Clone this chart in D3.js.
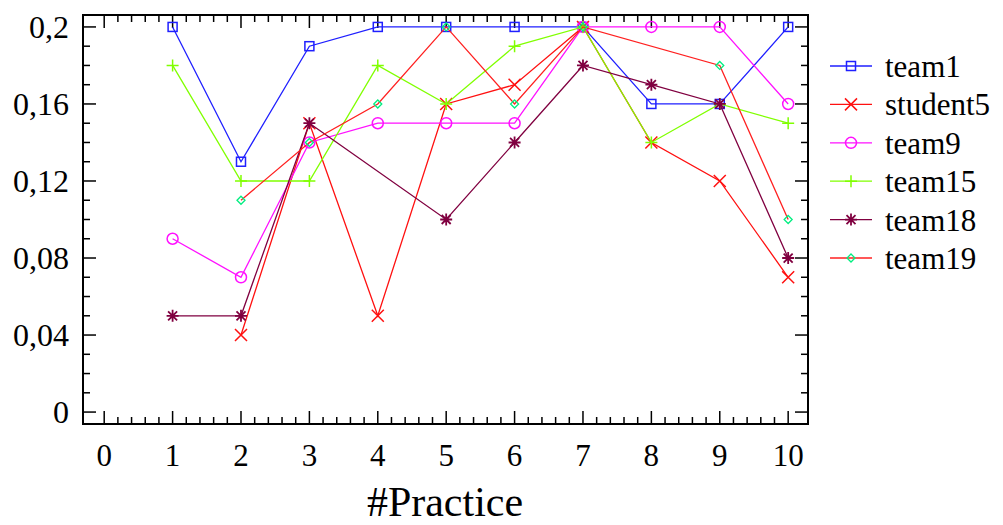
<!DOCTYPE html>
<html><head><meta charset="utf-8">
<script src="https://cdn.jsdelivr.net/npm/d3@7"></script>
<style>
svg text, svg tspan { font-family: "Liberation Serif", "Times New Roman", Tinos, Times !important; }
</style>
</head><body style="margin:0">
<svg id="c" width="1003" height="525"></svg>
<script>
const practice = [1,2,3,4,5,6,7,8,9,10];
const team1    = [0.20,0.13,0.19,0.20,0.20,0.20,0.20,0.16,0.16,0.20];
const student5 = [null,0.04,0.15,0.05,0.16,0.17,0.20,0.14,0.12,0.07];
const team9    = [0.09,0.07,0.14,0.15,0.15,0.15,0.20,0.20,0.20,0.16];
const team15   = [0.18,0.12,0.12,0.18,0.16,0.19,0.20,0.14,0.16,0.15];
const team18   = [0.05,0.05,0.15,null,0.10,0.14,0.18,0.17,0.16,0.08];
const team19   = [null,0.11,0.14,0.16,0.20,0.16,0.20,null,0.18,0.10];
const seriesNames = ["team1","student5","team9","team15","team18","team19"];
const seriesValues = [team1,student5,team9,team15,team18,team19];
const lineColors = ["#1f1fff","#ff1010","#ff10ff","#80ff00","#800040","#ff2020"];
const markerColors = ["#1f1fff","#ff1010","#ff10ff","#80ff00","#800040","#00ee80"];
const markerTypes = ["square","x","circle","plus","star","diamond"];
const xTicks = [0,1,2,3,4,5,6,7,8,9,10];
const yTicks = [0,0.04,0.08,0.12,0.16,0.2];
const yTickLabels = ["0","0,04","0,08","0,12","0,16","0,2"];
const xTitle = "#Practice";

const svg = d3.select("#c");
const L=83,R=808,T=15,B=424;
const x = d3.scaleLinear().domain([-0.31,10.29]).range([L,R]);
const y = d3.scaleLinear().domain([-0.0062,0.2062]).range([B,T]);

const g = svg.append("g").attr("stroke","#000").attr("stroke-width",1.5);
d3.range(0,10.01,0.2).forEach(v=>{
  const major = Math.abs(v-Math.round(v))<1e-6;
  const len = major?13:7;
  g.append("line").attr("x1",x(v)).attr("x2",x(v)).attr("y1",B).attr("y2",B-len);
  g.append("line").attr("x1",x(v)).attr("x2",x(v)).attr("y1",T).attr("y2",T+len);
});
d3.range(0,0.2001,0.01).forEach((v,i)=>{
  const major = i%4===0;
  const len = major?13:7;
  g.append("line").attr("y1",y(v)).attr("y2",y(v)).attr("x1",L).attr("x2",L+len);
  g.append("line").attr("y1",y(v)).attr("y2",y(v)).attr("x1",R).attr("x2",R-len);
});
svg.append("rect").attr("x",L).attr("y",T).attr("width",R-L).attr("height",B-T)
  .attr("fill","none").attr("stroke","#000").attr("stroke-width",2);

svg.append("g").selectAll("text").data(xTicks).join("text")
  .attr("x",d=>x(d)).attr("y",466).attr("text-anchor","middle")
  .style("font-size","31px").text(d=>d);
svg.append("g").selectAll("text").data(yTicks).join("text")
  .attr("x",69).attr("y",d=>y(d)+11).attr("text-anchor","end")
  .style("font-size","32px").text((d,i)=>yTickLabels[i]);
svg.append("text").attr("x",445).attr("y",516).attr("text-anchor","middle")
  .style("font-size","42px").text(xTitle);

function marker(sel,type,color){
  const s=6;
  if(type==="square") sel.append("rect").attr("x",-4.5).attr("y",-4.5).attr("width",9).attr("height",9).attr("fill","none").attr("stroke",color).attr("stroke-width",1.5);
  else if(type==="circle") sel.append("circle").attr("r",5.5).attr("fill","none").attr("stroke",color).attr("stroke-width",1.5);
  else if(type==="x") sel.append("path").attr("d",`M${-s},${-s}L${s},${s}M${-s},${s}L${s},${-s}`).attr("stroke",color).attr("stroke-width",1.5);
  else if(type==="plus") sel.append("path").attr("d",`M${-s},0L${s},0M0,${-s}L0,${s}`).attr("stroke",color).attr("stroke-width",1.5);
  else if(type==="star") sel.append("path").attr("d",`M${-s},0L${s},0M0,${-s}L0,${s}M-4.5,-4.5L4.5,4.5M-4.5,4.5L4.5,-4.5`).attr("stroke",color).attr("stroke-width",1.8);
  else if(type==="diamond") sel.append("path").attr("d","M0,-4L4,0L0,4L-4,0Z").attr("fill","none").attr("stroke",color).attr("stroke-width",1.3);
}

const line = d3.line().x(d=>x(d[0])).y(d=>y(d[1]));
seriesValues.forEach((vals,i)=>{
  const pts = practice.map((p,j)=>[p,vals[j]]).filter(d=>d[1]!==null);
  svg.append("path").datum(pts).attr("d",line).attr("fill","none")
    .attr("stroke",lineColors[i]).attr("stroke-width",1.3);
  pts.forEach(p=>{
    const mg = svg.append("g").attr("transform",`translate(${x(p[0])},${y(p[1])})`);
    marker(mg,markerTypes[i],markerColors[i]);
  });
});

seriesNames.forEach((n,i)=>{
  const yy = 66 + i*38.4;
  svg.append("line").attr("x1",830).attr("x2",872).attr("y1",yy).attr("y2",yy)
    .attr("stroke",lineColors[i]).attr("stroke-width",1.3);
  const mg = svg.append("g").attr("transform",`translate(851,${yy})`);
  marker(mg,markerTypes[i],markerColors[i]);
  svg.append("text").attr("x",885).attr("y",yy+11)
    .style("font-size","31px").text(n);
});
</script>
</body></html>
